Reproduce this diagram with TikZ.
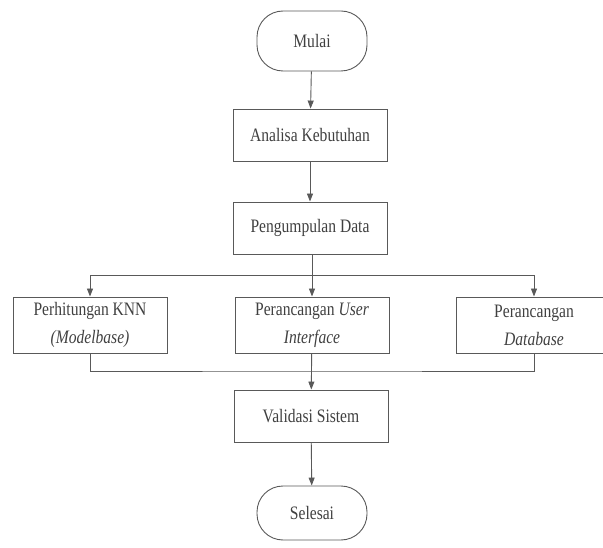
\documentclass[tikz,border=0pt]{standalone}
\usepackage{fontspec}
\setmainfont[FakeStretch=0.82]{Liberation Serif}
\usetikzlibrary{arrows.meta}
\definecolor{ln}{gray}{0.35}
\definecolor{tx}{gray}{0.25}
\begin{document}
\begin{tikzpicture}[x=1pt,y=-1pt,
  box/.style={draw=ln,line width=0.9pt,minimum width=154pt,minimum height=52pt,inner sep=0pt,align=center,text=tx,font=\fontsize{19}{28}\selectfont},
  term/.style={draw=ln,line width=0.9pt,rounded corners=26pt,minimum width=110pt,minimum height=60pt,inner sep=0pt,text=tx,font=\fontsize{19}{23}\selectfont},
  arr/.style={draw=ln,line width=0.9pt,-{Triangle[length=8pt,width=6pt]}},
  con/.style={draw=ln,line width=0.9pt}]
\useasboundingbox (0,0) rectangle (603,548);
\node[term] (mulai) at (312,41) {Mulai};
\node[box] (ak) at (310,135) {Analisa Kebutuhan};
\node[box] (pd) at (310,228) {Pengumpulan Data};
\node[box,minimum height=56pt] (knn) at (90,325) {Perhitungan KNN\\\textit{(Modelbase)}};
\node[box,minimum height=56pt] (ui) at (312,325) {Perancangan \textit{User}\\\textit{Interface}};
\node[box,minimum height=56pt,minimum width=156pt] (db) at (534,325) {Perancangan\\\textit{Database}};
\node[box] (val) at (311,416) {Validasi Sistem};
\node[term,minimum height=54pt] (sel) at (312,513) {Selesai};
\coordinate (split) at (312,275);
\coordinate (merge) at (312,371);
\draw[arr] (mulai) -- (ak);
\draw[arr] (ak) -- (pd);
\draw[con] (pd.south -| split) -- (split);
\draw[arr] (split) -| (knn.north);
\draw[arr] (split) -- (ui);
\draw[arr] (split) -| (db.north);
\draw[con] (knn.south) |- (merge) -| (db.south);
\draw[arr] (ui) -- (val);
\draw[arr] (val) -- (sel);
\end{tikzpicture}
\end{document}
